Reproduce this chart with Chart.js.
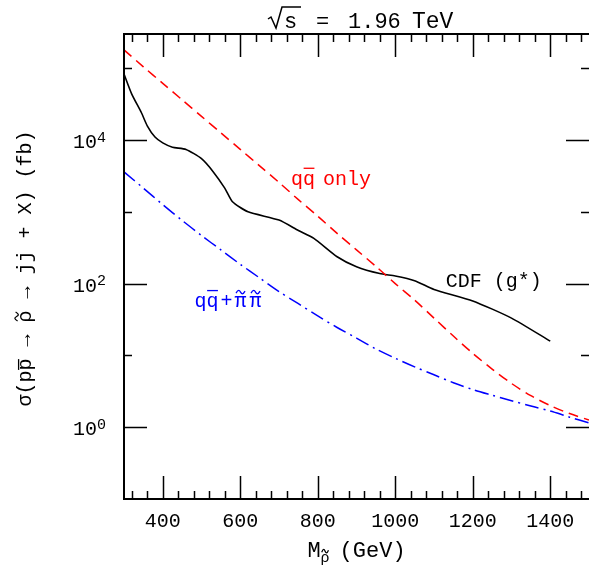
<!DOCTYPE html>
<html>
<head>
<meta charset="utf-8">
<script src="https://cdn.jsdelivr.net/npm/chart.js@4.4.0/dist/chart.umd.min.js"></script>
<style>
  html, body { margin: 0; padding: 0; background: #fff; }
  #wrap { width: 589px; height: 567px; }
</style>
</head>
<body>
<div id="wrap"><canvas id="xsec" width="589" height="567"></canvas></div>
<script>
// rho_T mass (GeV) and cross sections (fb)
const massGrid = [300, 350, 400, 450, 500, 550, 600, 650, 700, 750, 800, 850, 900,
                  950, 1000, 1050, 1100, 1150, 1200, 1250, 1300, 1350, 1400, 1450, 1500];
const qqOnly = [180000, 104700, 61660, 36310, 21380, 12590, 7413, 4365, 2570, 1479, 871, 501, 295,
                174, 100, 58.9, 33.1, 18.6, 10.7, 6.46, 4.07, 2.75, 2.0, 1.55, 1.26];
const qqPiPi = [3597, 2138, 1259, 759, 468, 295, 186, 120, 77.6, 52.5, 35.5, 24.5, 17.4,
                12.3, 9.12, 6.92, 5.37, 4.17, 3.35, 2.79, 2.34, 1.97, 1.68, 1.38, 1.15];

// CDF (g*) limit
const massCDF = [300, 320, 345, 360, 380, 400, 425, 460, 500, 530, 560, 580, 620, 700, 750,
                 790, 850, 900, 960, 1000, 1050, 1100, 1200, 1300, 1400];
const cdfLimit = [83000, 43600, 24000, 15800, 11000, 9120, 7940, 7410, 5500, 3630, 2140, 1380,
                  1000, 767, 550, 427, 237, 172, 138, 128, 110, 83, 57.5, 33.1, 15.8];

const xTickLabels = [400, 600, 800, 1000, 1200, 1400];
const yTickPowers = [0, 2, 4];

const FONT = '"Liberation Mono", "Courier New", monospace';
function font(sz) { return sz + 'px ' + FONT; }

function pts(xs, ys) { return xs.map((x, i) => ({ x: x, y: ys[i] })); }

function drawTilde(ctx, cx, y, w) {
    ctx.beginPath();
    ctx.moveTo(cx - w / 2, y + 1);
    ctx.bezierCurveTo(cx - w / 4, y - 3, cx - w / 8, y - 2, cx, y);
    ctx.bezierCurveTo(cx + w / 8, y + 2, cx + w / 4, y + 3, cx + w / 2, y - 1);
    ctx.stroke();
}

function richWidth(ctx, segs, size) {
    let w = 0;
    segs.forEach(s => {
        if (s.gap) { w += s.gap; return; }
        ctx.font = font(s.size || size);
        w += ctx.measureText(s.t).width;
    });
    return w;
}

// segs: {t, size, dy, bar, barH, tilde, gap}
function drawRich(ctx, segs, x, y, size, color, align) {
    const w = richWidth(ctx, segs, size);
    let cx = align === 'center' ? x - w / 2 : (align === 'right' ? x - w : x);
    ctx.fillStyle = color;
    ctx.strokeStyle = color;
    ctx.lineWidth = 1.3;
    ctx.textAlign = 'left';
    ctx.textBaseline = 'alphabetic';
    segs.forEach(s => {
        if (s.gap) { cx += s.gap; return; }
        const sz = s.size || size;
        ctx.font = font(sz);
        const sw = ctx.measureText(s.t).width;
        const by = y + (s.dy || 0);
        ctx.fillText(s.t, cx, by);
        if (s.bar) {
            const h = by - sz * (s.barH || 0.85);
            ctx.beginPath();
            ctx.moveTo(cx + sw * 0.05, h);
            ctx.lineTo(cx + sw * 0.95, h);
            ctx.stroke();
        }
        if (s.tilde) drawTilde(ctx, cx + sw / 2, by - sz * 0.72, sw * 0.75);
        cx += sw;
    });
}

// curve labels, anchored in data coordinates
const curveLabels = [
    { m: 731, v: 2344, color: '#ff0000',
      segs: [{ t: 'q' }, { t: 'q', bar: true }, { gap: 8 }, { t: 'only' }] },
    { m: 1130, v: 90.6, color: '#000000',
      segs: [{ t: 'CDF (g*)' }] },
    { m: 482, v: 47.9, color: '#0000ff',
      segs: [{ t: 'q' }, { t: 'q', bar: true, barH: 0.8 }, { gap: 2 }, { t: '+' }, { gap: 2 },
             { t: 'π', tilde: true }, { gap: 3 }, { t: 'π', tilde: true }] }
];

const frame = {
    id: 'frame',
    afterDraw(chart) {
        const ctx = chart.ctx;
        const a = chart.chartArea;
        const xs = chart.scales.x, ys = chart.scales.y;
        ctx.save();
        ctx.strokeStyle = '#000';
        ctx.lineWidth = 2;
        ctx.beginPath();
        ctx.moveTo(a.left, a.top); ctx.lineTo(a.left, a.bottom);
        ctx.moveTo(a.left - 1, a.bottom); ctx.lineTo(a.right, a.bottom);
        ctx.moveTo(a.left - 1, a.top); ctx.lineTo(a.right, a.top);
        ctx.stroke();

        // x ticks every 40 GeV, long ones every 200
        ctx.lineWidth = 1.5;
        ctx.beginPath();
        for (let m = 320; m < 1500; m += 40) {
            const px = Math.round(xs.getPixelForValue(m)) + 0.5;
            const len = m % 200 === 0 ? 23 : 8;
            ctx.moveTo(px, a.bottom); ctx.lineTo(px, a.bottom - len);
            ctx.moveTo(px, a.top); ctx.lineTo(px, a.top + len);
        }
        // y ticks each decade, long ones on even powers
        for (let p = 0; p <= 5; p++) {
            const py = Math.round(ys.getPixelForValue(Math.pow(10, p))) + 0.5;
            const len = p % 2 === 0 ? 23 : 8;
            ctx.moveTo(a.left, py); ctx.lineTo(a.left + len, py);
            ctx.moveTo(a.right, py); ctx.lineTo(a.right - len, py);
        }
        ctx.stroke();

        // y tick labels 10^n
        yTickPowers.forEach(p => {
            const py = ys.getPixelForValue(Math.pow(10, p));
            ctx.fillStyle = '#000';
            ctx.font = font(20);
            ctx.textAlign = 'right';
            ctx.textBaseline = 'alphabetic';
            ctx.fillText('10', 97, py + 8);
            ctx.font = font(15);
            ctx.textAlign = 'left';
            ctx.fillText(String(p), 97, py + 1.5);
        });

        // title
        const tx = 268, ty = 28;
        ctx.strokeStyle = '#000';
        ctx.lineWidth = 1.5;
        ctx.beginPath();
        ctx.moveTo(tx, ty - 9); ctx.lineTo(tx + 3, ty - 11); ctx.lineTo(tx + 8, ty);
        ctx.lineTo(tx + 14, ty - 21); ctx.lineTo(tx + 33, ty - 21);
        ctx.stroke();
        ctx.fillStyle = '#000';
        ctx.font = font(22);
        ctx.textAlign = 'left';
        ctx.fillText('s', tx + 16, ty);
        ctx.fillText('=', tx + 48, ty);
        ctx.fillText('1.96', tx + 80, ty);
        ctx.font = font(23);
        ctx.fillText('TeV', tx + 144, ty);

        // x axis title
        drawRich(ctx, [{ t: 'M' }, { t: 'ρ', size: 15, dy: 5, tilde: true }, { gap: 10 }, { t: '(GeV)' }],
                 (a.left + a.right) / 2, 557, 22, '#000', 'center');

        // y axis title (rotated)
        ctx.save();
        ctx.translate(31, (a.top + a.bottom) / 2 + 2);
        ctx.rotate(-Math.PI / 2);
        drawRich(ctx, [{ t: 'σ(p' }, { t: 'p', bar: true, barH: 0.62 }, { t: ' → ' },
                       { t: 'ρ', tilde: true }, { t: ' → jj + X) (fb)' }],
                 0, 0, 20, '#000', 'center');
        ctx.restore();

        // curve labels
        curveLabels.forEach(l => {
            drawRich(ctx, l.segs, xs.getPixelForValue(l.m), ys.getPixelForValue(l.v), 20, l.color, 'left');
        });
        ctx.restore();
    }
};

new Chart(document.getElementById('xsec').getContext('2d'), {
    type: 'line',
    data: {
        datasets: [
            { label: 'qq only', data: pts(massGrid, qqOnly), borderColor: '#ff0000',
              borderWidth: 1.5, borderDash: [10, 6], pointRadius: 0, tension: 0.3 },
            { label: 'CDF (g*)', data: pts(massCDF, cdfLimit), borderColor: '#000000',
              borderWidth: 1.6, pointRadius: 0, tension: 0.2 },
            { label: 'qq + pi pi', data: pts(massGrid, qqPiPi), borderColor: '#0000ff',
              borderWidth: 1.5, borderDash: [14, 5, 2, 5], pointRadius: 0, tension: 0.3 }
        ]
    },
    options: {
        responsive: false,
        devicePixelRatio: 1,
        animation: false,
        layout: { padding: { left: 0, right: 0, top: 34, bottom: 0 } },
        plugins: { legend: { display: false }, tooltip: { enabled: false }, title: { display: false } },
        scales: {
            x: {
                type: 'linear', min: 300, max: 1500,
                grid: { display: false }, border: { display: false },
                afterBuildTicks: s => { s.ticks = xTickLabels.map(v => ({ value: v })); },
                afterFit: s => { s.height = 68; },
                ticks: { color: '#000', font: { family: FONT, size: 20 }, padding: 3, maxRotation: 0,
                         callback: v => String(v) }
            },
            y: {
                type: 'logarithmic', min: 0.1, max: 3e5,
                grid: { display: false }, border: { display: false },
                afterFit: s => { s.width = 124; },
                ticks: { display: false }
            }
        }
    },
    plugins: [frame]
});
</script>
</body>
</html>
